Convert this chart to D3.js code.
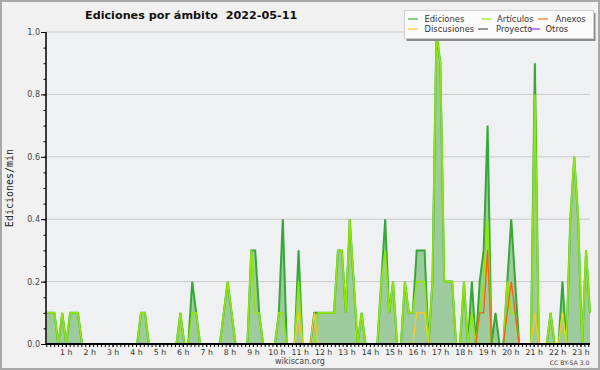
<!DOCTYPE html>
<html><head><meta charset="utf-8">
<script src="https://cdn.jsdelivr.net/npm/d3@7"></script>
<style>body{margin:0;background:#f1f1f1}svg{display:block}</style>
</head><body>
<svg id="chart" width="600" height="370"></svg>
<script>
// ---------- data (10-minute bins, edits per minute) ----------
const title = "Ediciones por ámbito  2022-05-11";
const yLabel = "Ediciones/min";
const hourTicks = [1,2,3,4,5,6,7,8,9,10,11,12,13,14,15,16,17,18,19,20,21,22,23];
const yTicks = [0.0, 0.2, 0.4, 0.6, 0.8, 1.0];

const ediciones = [
 .1,.1,.1,0,.1,0,.1,.1,.1,0,
 0,0,0,0,0,0,0,0,0,0,
 0,0,0,0,.1,.1,0,0,0,0,
 0,0,0,0,.1,0,0,.2,.1,0,
 0,0,0,0,0,.1,.2,.1,0,0,
 0,0,.3,.3,.1,0,0,0,0,.1,
 .4,0,0,0,.3,0,0,0,.1,.1,
 .1,.1,.1,.1,.3,.3,.1,.4,.2,0,
 .1,0,0,0,0,.2,.4,.1,.2,0,
 0,.2,.1,.1,.3,.3,.3,0,.2,1.0,
 .9,.2,.2,.2,0,0,.2,0,.2,0,
 .2,.3,.7,0,.1,0,0,.2,.4,.2,
 0,0,0,0,.9,0,0,0,.1,0,
 0,.2,0,.4,.6,.4,0,.3,.1];
const articulos = [
 .1,.1,.1,0,.1,0,.1,.1,.1,0,
 0,0,0,0,0,0,0,0,0,0,
 0,0,0,0,.1,.1,0,0,0,0,
 0,0,0,0,.1,0,0,.1,.1,0,
 0,0,0,0,0,.1,.2,.1,0,0,
 0,0,.3,.1,.1,0,0,0,0,.1,
 .1,0,0,0,.2,0,0,0,0,.1,
 .1,.1,.1,.1,.3,.3,.1,.4,.2,0,
 .1,0,0,0,0,.2,.3,.1,.2,0,
 0,.2,.1,.1,.2,.2,.2,0,.2,1.0,
 .9,.2,.2,.2,0,0,.2,0,.1,0,
 .1,.2,.4,0,0,0,0,.2,.1,.1,
 0,0,0,0,.8,0,0,0,.1,0,
 0,.1,0,.4,.6,.4,0,.3,.1];
const discusiones = [
 0,0,0,0,0,0,0,0,0,0,
 0,0,0,0,0,0,0,0,0,0,
 0,0,0,0,0,0,0,0,0,0,
 0,0,0,0,0,0,0,0,0,0,
 0,0,0,0,0,0,0,0,0,0,
 0,0,0,0,0,0,0,0,0,0,
 0,0,0,0,.1,0,0,0,.1,0,
 0,0,0,0,0,0,0,0,0,0,
 0,0,0,0,0,0,0,0,0,0,
 0,0,0,0,.1,.1,.1,0,0,0,
 0,0,0,0,0,0,0,0,0,0,
 0,0,0,0,0,0,0,0,0,0,
 0,0,0,0,.1,0,0,0,0,0,
 0,.1,0,0,0,0,0,0,0];
const anexos = [
 0,0,0,0,0,0,0,0,0,0,
 0,0,0,0,0,0,0,0,0,0,
 0,0,0,0,0,0,0,0,0,0,
 0,0,0,0,0,0,0,0,0,0,
 0,0,0,0,0,0,0,0,0,0,
 0,0,0,0,0,0,0,0,0,0,
 0,0,0,0,0,0,0,0,0,0,
 0,0,0,0,0,0,0,0,0,0,
 0,0,0,0,0,0,0,0,0,0,
 0,0,0,0,0,0,0,0,0,0,
 0,0,0,0,0,0,0,0,0,0,
 .1,.1,.3,0,0,0,0,.1,.2,.1,
 0,0,0,0,0,0,0,0,0,0,
 0,0,0,0,0,0,0,0,0];

const legendNames  = ["Ediciones","Artículos","Anexos","Discusiones","Proyecto","Otros"];
const legendColors = ["#3fae3f","#99e811","#ff6a22","#ffc81a","#555555","#9933ff"];

// ---------- layout ----------
const svg = d3.select("#chart");
const W = 600, H = 370;
const L = 46, R = 590, T = 32, B = 344;

svg.append("rect").attr("x",0).attr("y",0).attr("width",W).attr("height",H).attr("fill","#f1f1f1");
svg.append("rect").attr("x",1).attr("y",1).attr("width",W-2).attr("height",H-2)
   .attr("fill","none").attr("stroke","#a8a8a8").attr("stroke-width",2);
svg.append("rect").attr("x",L).attr("y",T).attr("width",R-L).attr("height",B-T).attr("fill","#eef0f2");

const n = ediciones.length;
const xi = d3.scaleLinear().domain([0, n-1]).range([46.5, 590]);
const xh = d3.scaleLinear().domain([(L-42.4)/23.395, (R-42.4)/23.395]).range([L, R]);
const y = d3.scaleLinear().domain([0, 1]).range([B, T]);

// grid
svg.append("g").selectAll("line").data(yTicks.slice(1)).join("line")
  .attr("x1",L).attr("x2",R).attr("y1",d=>y(d)).attr("y2",d=>y(d))
  .attr("stroke","#c9c9c9").attr("stroke-width",1);

// area + lines
const area = d3.area().x((d,i)=>xi(i)).y0(B).y1(d=>y(d));
const line = d3.line().x((d,i)=>xi(i)).y(d=>y(d));
svg.append("path").datum(ediciones).attr("d",area).attr("fill","#9ecb9e");
svg.append("path").datum(ediciones).attr("d",line).attr("fill","none")
   .attr("stroke","#35a835").attr("stroke-width",2);
svg.append("path").datum(articulos).attr("d",line).attr("fill","none")
   .attr("stroke","#8fe60a").attr("stroke-width",1.7);
svg.append("path").datum(discusiones).attr("d",line).attr("fill","none")
   .attr("stroke","#ffc81a").attr("stroke-width",1.3);
svg.append("path").datum(anexos).attr("d",line).attr("fill","none")
   .attr("stroke","#ff5a14").attr("stroke-width",1.3);

// axes
const fontTick = "DejaVu Sans, sans-serif";
const yMinor = svg.append("g").attr("transform",`translate(${L},0)`)
  .call(d3.axisLeft(y).tickValues(d3.range(0,1.0001,0.05)).tickSize(2.5).tickFormat(""));
const yAx = svg.append("g").attr("transform",`translate(${L},0)`)
  .call(d3.axisLeft(y).tickValues(yTicks).tickSize(5).tickPadding(1).tickFormat(d3.format(".1f")));
const minorHours = d3.range(1, 141).map(i=>i/6).filter(h=>h>=xh.domain()[0] && h<=xh.domain()[1]);
const xMinor = svg.append("g").attr("transform",`translate(0,${B})`)
  .call(d3.axisBottom(xh).tickValues(minorHours).tickSize(3).tickFormat(""));
const xAx = svg.append("g").attr("transform",`translate(0,${B})`)
  .call(d3.axisBottom(xh).tickValues(hourTicks).tickSize(3).tickPadding(2).tickFormat(d=>d+" h"));
[yMinor,yAx,xMinor,xAx].forEach(g=>{
  g.select(".domain").remove();
  g.selectAll("line").attr("stroke","#000").attr("stroke-width",1);
});
yAx.selectAll("text").attr("font-family",fontTick).attr("font-size",8).attr("fill","#444");
xAx.selectAll("text").attr("font-family",fontTick).attr("font-size",7.8).attr("fill","#333");
svg.append("line").attr("x1",L).attr("x2",L).attr("y1",T).attr("y2",B+1)
   .attr("stroke","#000").attr("stroke-width",1.5);
svg.append("line").attr("x1",L-0.5).attr("x2",R).attr("y1",B).attr("y2",B)
   .attr("stroke","#000").attr("stroke-width",1.8);

// texts
svg.append("text").attr("x",85).attr("y",18.5).attr("font-family","DejaVu Sans, sans-serif")
   .attr("font-weight","bold").attr("font-size",11.2).attr("fill","#111")
   .style("white-space","pre").text(title);
svg.append("text").attr("transform","translate(13,188) rotate(-90)").attr("text-anchor","middle")
   .attr("font-family","DejaVu Sans Mono, monospace").attr("font-size",10).attr("fill","#222").text(yLabel);
svg.append("text").attr("x",300).attr("y",364).attr("text-anchor","middle")
   .attr("font-family",fontTick).attr("font-size",8).attr("fill","#444").text("wikiscan.org");
svg.append("text").attr("x",589.5).attr("y",364.5).attr("text-anchor","end")
   .attr("font-family",fontTick).attr("font-size",6.2).attr("fill","#444").text("CC BY-SA 3.0");

// legend
const lg = svg.append("g");
lg.append("rect").attr("x",406.5).attr("y",13).attr("width",189).attr("height",28).attr("fill","#8a8a8a");
lg.append("rect").attr("x",404.5).attr("y",10.5).attr("width",189).attr("height",28)
  .attr("fill","#fbfbfb").attr("stroke","#d0d0d0").attr("stroke-width",1);
const legPos = [[408,424.5,19],[481.5,497,19],[538,555.5,19],[408,424.5,29],[478,496,29],[530,545.5,29]];
legendNames.forEach((name,i)=>{
  const [lx,tx,ly] = legPos[i];
  lg.append("line").attr("x1",lx).attr("x2",lx+10).attr("y1",ly).attr("y2",ly)
    .attr("stroke",legendColors[i]).attr("stroke-width",1.2);
  lg.append("text").attr("x",tx).attr("y",ly+3.3).attr("font-family",fontTick)
    .attr("font-size",8.4).attr("fill","#333").text(name);
});
</script>
</body></html>
